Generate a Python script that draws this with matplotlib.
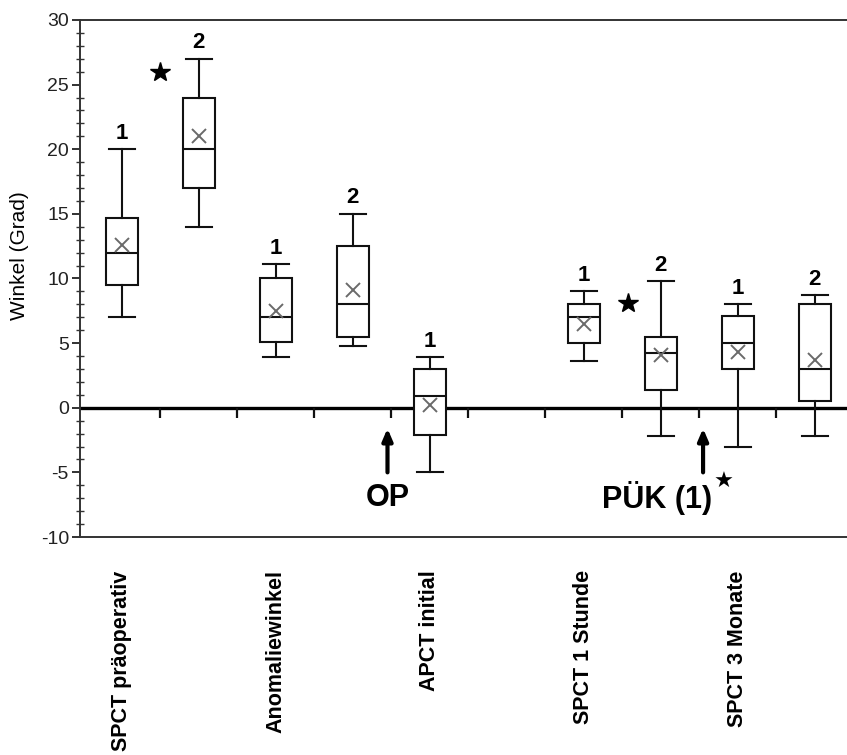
import matplotlib
matplotlib.use("Agg")
import matplotlib.pyplot as plt
from matplotlib.ticker import MultipleLocator
import numpy as np

# box positions (slot 6 stays empty)
positions = [1, 2, 3, 4, 5, 7, 8, 9, 10]
group_labels = ["1", "2", "1", "2", "1", "1", "2", "1", "2"]
whislo = [7.0, 14.0, 3.9, 4.8, -5.0, 3.6, -2.2, -3.0, -2.2]
q1 = [9.5, 17.0, 5.1, 5.5, -2.1, 5.0, 1.4, 3.0, 0.5]
med = [12.0, 20.0, 7.0, 8.0, 0.9, 7.0, 4.2, 5.0, 3.0]
q3 = [14.7, 24.0, 10.0, 12.5, 3.0, 8.0, 5.5, 7.1, 8.0]
whishi = [20.0, 27.0, 11.1, 15.0, 3.9, 9.0, 9.8, 8.0, 8.7]
means = [12.6, 21.0, 7.5, 9.1, 0.2, 6.5, 4.1, 4.3, 3.7]

cat_positions = [1, 3, 5, 7, 9]
cat_labels = ["SPCT präoperativ", "Anomaliewinkel", "APCT initial",
              "SPCT 1 Stunde", "SPCT 3 Monate"]

star_x = [1.5, 7.57]
star_y = [26.0, 8.1]

# event arrows: (x, text)
event_x = [4.45, 8.55]
event_text = ["OP", "PÜK (1)"]

plt.rcParams["font.family"] = ["Liberation Sans", "DejaVu Sans"]
plt.rcParams["axes.unicode_minus"] = False

fig = plt.figure(figsize=(8.47, 7.55), dpi=100)
ax = fig.add_axes([80 / 847, 1 - 537 / 755, 767 / 847, 517 / 755])

stats = []
for i in range(len(positions)):
    stats.append({
        "whislo": whislo[i], "q1": q1[i], "med": med[i],
        "q3": q3[i], "whishi": whishi[i], "mean": means[i], "fliers": [],
    })

line_kw = dict(color="#111111", linewidth=1.5)
ax.bxp(
    stats, positions=positions, widths=0.42, showmeans=True,
    patch_artist=True, showfliers=False,
    boxprops=dict(facecolor="white", edgecolor="#111111", linewidth=1.5),
    medianprops=line_kw, whiskerprops=line_kw,
    capprops=line_kw, capwidths=0.34,
    meanprops=dict(marker="x", markeredgecolor="#6a6a6a", markersize=10,
                   markeredgewidth=1.4),
    zorder=3,
)

# group numbers above the whiskers
for x, top, lab in zip(positions, whishi, group_labels):
    ax.annotate(lab, (x, top), xytext=(0, 4), textcoords="offset points",
                ha="center", va="bottom", fontsize=16, fontweight="bold")

# zero line with ticks between slots
ax.axhline(0, color="black", linewidth=2.4, zorder=2)
half_ticks = np.arange(positions[0] + 0.5, positions[-1], 1.0)
ax.vlines(half_ticks, -0.8, 0, color="#111111", linewidth=1.6, zorder=2)

ax.plot(star_x, star_y, linestyle="none", marker="*", markersize=15,
        color="black")

for x, txt in zip(event_x, event_text):
    ax.annotate("", xy=(x, -1.6), xytext=(x, -5.0),
                arrowprops=dict(arrowstyle="-|>,head_length=0.7,head_width=0.3",
                                lw=3, color="black", shrinkA=0, shrinkB=0))
ax.text(event_x[0], -6.95, event_text[0], ha="center", va="center",
        fontsize=22, fontweight="bold")
ax.text(event_x[1] - 0.6, -6.95, event_text[1], ha="center", va="center",
        fontsize=22, fontweight="bold")
ax.text(event_x[1] + 0.27, -5.75, "★", ha="center", va="center",
        fontsize=16, family=["DejaVu Sans"])

ax.set_xlim(0.455, 10.42)
ax.set_ylim(-10, 30)

ax.set_xticks(cat_positions)
ax.set_xticklabels(cat_labels, rotation=90, fontsize=15.5, fontweight="bold",
                   va="top")
ax.tick_params(axis="x", length=0, pad=24)

ax.yaxis.set_major_locator(MultipleLocator(5))
ax.yaxis.set_minor_locator(MultipleLocator(1))
ax.tick_params(axis="y", which="major", direction="out", length=6, width=1.3,
               labelsize=14, labelcolor="#222222", color="#222222", pad=2)
ax.tick_params(axis="y", which="minor", direction="inout", length=6,
               width=1.0, color="#333333")

ax.set_ylabel("Winkel (Grad)", fontsize=15)
ax.yaxis.set_label_coords(-0.067, 0.545)

for side in ["left", "top", "bottom"]:
    ax.spines[side].set_linewidth(1.4)
    ax.spines[side].set_color("#333333")
ax.spines["right"].set_visible(False)

fig.savefig("out.png", dpi=100)
